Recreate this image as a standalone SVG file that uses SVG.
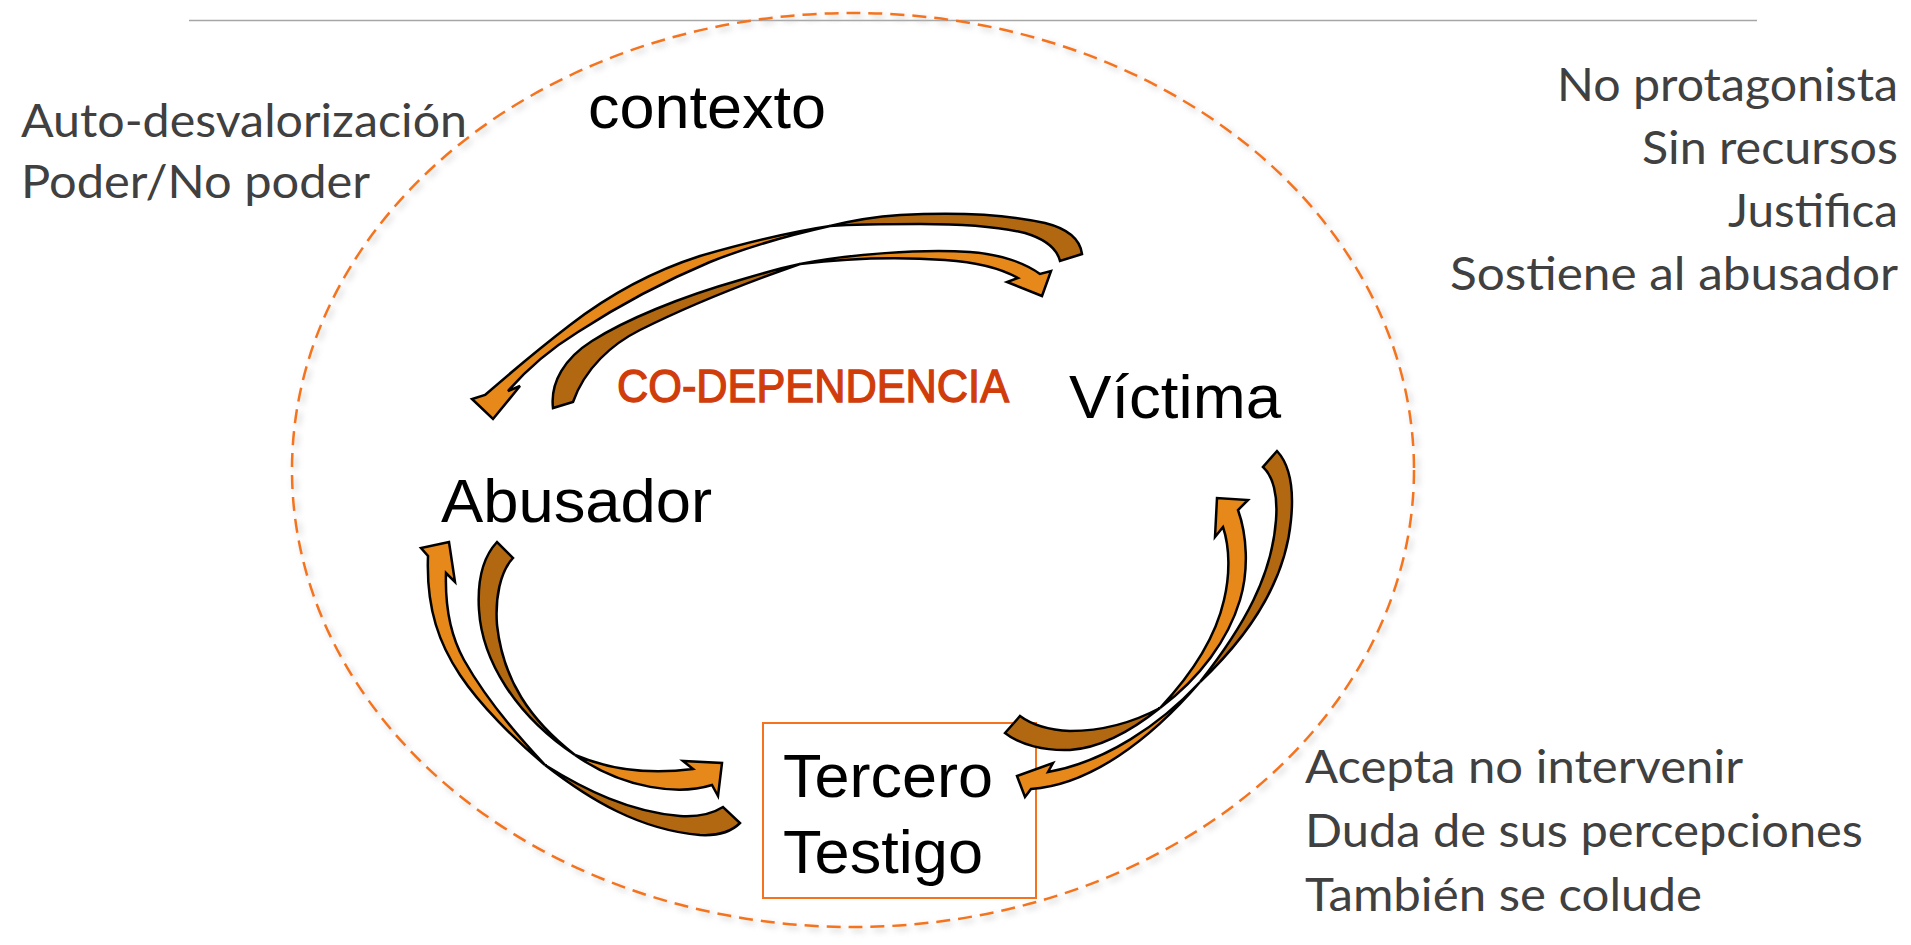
<svg xmlns="http://www.w3.org/2000/svg" width="1911" height="945" viewBox="0 0 1911 945">
<style>
.note{font-family:Lato,"Open Sans","Liberation Sans",sans-serif;font-size:46px;fill:#404040}
.lbl{font-family:"Liberation Sans",Arial,sans-serif;font-size:62px;fill:#000}
.codep{font-family:"Liberation Sans",Arial,sans-serif;font-size:46px;fill:#D03C0A;stroke:#D03C0A;stroke-width:1.3}
.or{fill:#E6881A;stroke:#000;stroke-width:2.5;stroke-linejoin:miter}
.br{fill:#B26811;stroke:#000;stroke-width:2.5;stroke-linejoin:miter}
</style>
<defs>
<filter id="sh" x="-5%" y="-5%" width="110%" height="110%">
<feGaussianBlur stdDeviation="3"/>
</filter>
</defs>
<rect width="1911" height="945" fill="#fff"/>
<line x1="189" y1="20.5" x2="1757" y2="20.5" stroke="#A6A6A6" stroke-width="1.5"/>
<g id="contexto">
<ellipse cx="856" cy="473" rx="561" ry="457" fill="none" stroke="#bbb" stroke-width="3" stroke-dasharray="14 8" filter="url(#sh)" opacity="0.7"/>
<ellipse cx="853" cy="470" rx="561" ry="457" fill="none" stroke="#F5731D" stroke-width="2.5" stroke-dasharray="14 8"/>
<text class="lbl" x="588" y="128" textLength="238" lengthAdjust="spacingAndGlyphs">contexto</text>
</g>
<g id="notas-abusador">
<text class="note" x="21" y="137" textLength="446" lengthAdjust="spacingAndGlyphs">Auto-desvalorización</text>
<text class="note" x="21" y="198" textLength="349" lengthAdjust="spacingAndGlyphs">Poder/No poder</text>
</g>
<g id="notas-victima" text-anchor="end">
<text class="note" x="1898" y="101" textLength="341" lengthAdjust="spacingAndGlyphs">No protagonista</text>
<text class="note" x="1898" y="164" textLength="256" lengthAdjust="spacingAndGlyphs">Sin recursos</text>
<text class="note" x="1898" y="227" textLength="170" lengthAdjust="spacingAndGlyphs">Justifica</text>
<text class="note" x="1898" y="290" textLength="448" lengthAdjust="spacingAndGlyphs">Sostiene al abusador</text>
</g>
<g id="notas-tercero">
<text class="note" x="1305" y="783" textLength="438" lengthAdjust="spacingAndGlyphs">Acepta no intervenir</text>
<text class="note" x="1305" y="847" textLength="558" lengthAdjust="spacingAndGlyphs">Duda de sus percepciones</text>
<text class="note" x="1305" y="911" textLength="397" lengthAdjust="spacingAndGlyphs">También se colude</text>
</g>
<g id="codependencia">
<text class="codep" x="617" y="402" textLength="392" lengthAdjust="spacingAndGlyphs">CO-DEPENDENCIA</text>
</g>
<g id="abusador">
<text class="lbl" x="441" y="522" textLength="271" lengthAdjust="spacingAndGlyphs">Abusador</text>
</g>
<g id="victima">
<text class="lbl" x="1069" y="418" textLength="212" lengthAdjust="spacingAndGlyphs">Víctima</text>
</g>
<g id="tercero">
<rect x="763" y="723" width="273" height="175" fill="#fff" stroke="#F5731D" stroke-width="2"/>
<text class="lbl" x="783" y="797" textLength="210" lengthAdjust="spacingAndGlyphs">Tercero</text>
<text class="lbl" x="783" y="873" textLength="200" lengthAdjust="spacingAndGlyphs">Testigo</text>
</g>
<g id="connectors">
<!-- T1: Victima -> Abusador (outer top) -->
<path class="br" d="M1082,254 C1080,238 1065,228 1045,223 C1010,215 960,212 900,215 C870,217 850,221 830,226 C860,224 890,224 920,224 C960,224 1000,227 1025,233 C1045,239 1057,249 1060,261 Z"/>
<path class="or" d="M830,226 C790,232 745,243 700,256 C650,272 605,298 570,325 C540,348 508,375 485,395 L472,399 L493,419 L520,386 L508,391 C528,368 552,348 578,332 C615,308 660,283 710,262 C750,246 790,235 830,226 Z"/>
<!-- T2: Abusador -> Victima (inner top) -->
<path class="br" d="M553,408 C550,382 565,358 592,341 C625,320 680,297 740,280 C760,274 780,268 800,264 C740,285 680,310 640,330 C612,344 585,368 573,402 Z"/>
<path class="or" d="M800,264 C850,254 920,249 970,252 C1000,254 1025,263 1040,274 L1051,271 L1042,296 L1007,282 L1018,278 C1000,268 975,262 945,260 C900,257 850,258 800,264 Z"/>
<!-- L1: Tercero -> Abusador (outer left) -->
<path class="or" d="M545,765 C515,740 480,705 460,675 C440,645 426,610 428,556 L421,548 L449,542 L455,582 L446,573 C445,605 450,635 464,660 C482,692 512,730 545,765 Z"/>
<path class="br" d="M545,765 C590,800 640,830 700,835 C718,836 732,831 740,823 L723,807 C712,814 697,817 680,816 C630,812 585,790 545,765 Z"/>
<!-- L2: Abusador -> Tercero (inner left) -->
<path class="br" d="M497,542 C484,556 477,578 479,610 C482,660 515,715 575,755 C530,720 503,680 497,625 C495,598 500,572 513,558 Z"/>
<path class="or" d="M575,755 C615,772 655,774 693,769 L683,761 L722,763 L718,796 L712,785 C680,795 625,790 575,755 Z"/>
<!-- R1: Victima -> Tercero (outer right) -->
<path class="br" d="M1277,451 C1290,465 1294,490 1291,520 C1286,575 1255,630 1200,682 C1245,625 1272,575 1276,520 C1278,495 1273,476 1263,467 Z"/>
<path class="or" d="M1200,682 C1160,725 1105,762 1048,772 L1053,763 L1017,776 L1025,797 L1031,789 C1090,785 1150,740 1200,682 Z"/>
<!-- R2: Tercero -> Victima (inner right) -->
<path class="or" d="M1238,510 C1247,535 1249,570 1240,600 C1228,640 1200,678 1160,708 C1190,676 1215,640 1224,600 C1230,575 1230,548 1223,527 L1215,537 L1217,498 L1248,500 Z"/>
<path class="br" d="M1005,733 C1020,745 1045,751 1070,750 C1100,748 1130,732 1160,708 C1130,724 1100,731 1070,731 C1050,730 1032,725 1020,716 Z"/>
</g>
</svg>
